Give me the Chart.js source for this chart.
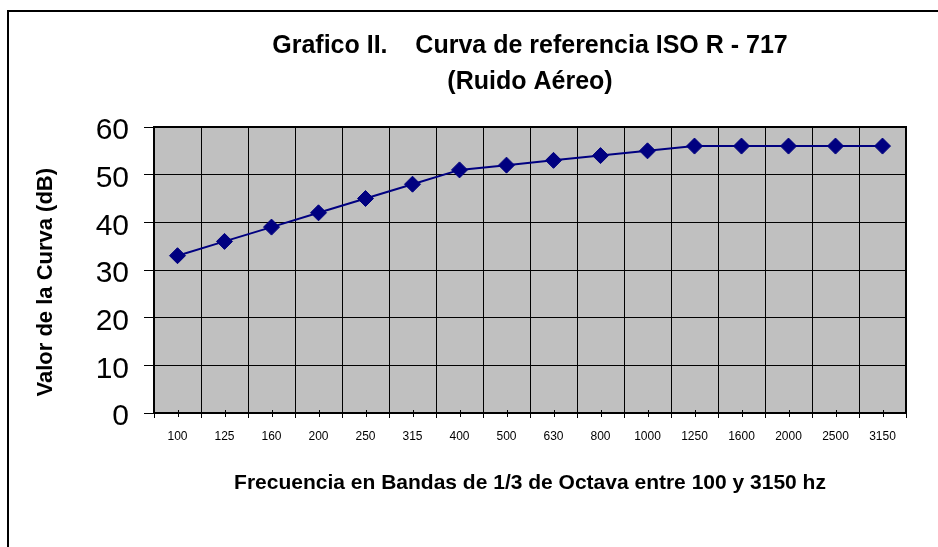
<!DOCTYPE html>
<html lang="es">
  <head>
    <meta charset="UTF-8" />
    <title>Curva de referencia ISO R - 717</title>
    <script src="https://cdn.jsdelivr.net/npm/chart.js@4/dist/chart.umd.min.js"></script>
    <style>
      html, body { margin: 0; padding: 0; background: #fff; overflow: hidden; }
    </style>
  </head>
  <body>
    <canvas id="myChart" width="938" height="547"></canvas>
    <script>
      // frecuencias (bandas de 1/3 de octava)
      const bandas = ["100", "125", "160", "200", "250", "315", "400", "500",
        "630", "800", "1000", "1250", "1600", "2000", "2500", "3150"];
      // valores de la curva de referencia (dB)
      const valores = [33, 36, 39, 42, 45, 48, 51, 52, 53, 54, 55, 56, 56, 56, 56, 56];

      const titulo = ["Grafico II.    Curva de referencia ISO R - 717", "(Ruido Aéreo)"];
      // los espacios finales bajan un poco el titulo vertical, como en el original
      const tituloY = "Valor de la Curva (dB)    ";
      const tituloX = "Frecuencia en Bandas de 1/3 de Octava entre 100 y 3150 hz";

      const FONT = "Arial, 'Liberation Sans', sans-serif";

      // marco, fondo gris del area y marquitas centrales del eje x
      const decor = {
        id: "decor",
        beforeDraw(chart) {
          const { ctx, chartArea: a } = chart;
          ctx.save();
          ctx.fillStyle = "#fff";
          ctx.fillRect(0, 0, chart.width, chart.height);
          ctx.strokeStyle = "#000";
          ctx.lineWidth = 2;
          ctx.strokeRect(8, 11, chart.width + 20, chart.height + 20);
          ctx.fillStyle = "#C0C0C0";
          ctx.fillRect(a.left, a.top, a.right - a.left, a.bottom - a.top);
          ctx.restore();
        },
        afterDatasetsDraw(chart) {
          const { ctx, chartArea: a } = chart;
          const xs = chart.scales.x;
          ctx.save();
          ctx.strokeStyle = "#000";
          ctx.lineWidth = 1;
          ctx.beginPath();
          for (let i = 0; i < bandas.length; i++) {
            const x = Math.round(xs.getPixelForTick(i)) + 0.5;
            ctx.moveTo(x, a.bottom - 3);
            ctx.lineTo(x, a.bottom + 4);
          }
          ctx.stroke();
          ctx.lineWidth = 2;
          ctx.strokeRect(a.left, a.top, a.right - a.left, a.bottom - a.top);
          ctx.restore();
        },
      };

      const ctx = document.getElementById("myChart").getContext("2d");
      new Chart(ctx, {
        type: "line",
        data: {
          labels: bandas,
          datasets: [
            {
              data: valores,
              borderColor: "#000080",
              backgroundColor: "#000080",
              borderWidth: 2,
              pointStyle: "rectRot",
              pointRadius: 8,
              pointBorderWidth: 1,
              tension: 0,
            },
          ],
        },
        options: {
          responsive: false,
          devicePixelRatio: 1,
          animation: false,
          layout: { padding: { left: 0, right: 32, top: 0, bottom: 0 } },
          plugins: {
            legend: { display: false },
            tooltip: { enabled: false },
            title: {
              display: true,
              fullSize: false,
              text: titulo,
              color: "#000",
              font: { family: FONT, size: 25, weight: "bold", lineHeight: 1.44 },
              padding: { top: 28, bottom: 27 },
            },
          },
          scales: {
            x: {
              offset: true,
              afterFit(scale) { scale.height = 134; },
              grid: { offset: true, color: "#000", lineWidth: 1, tickLength: 5 },
              border: { display: true, color: "#000", width: 2 },
              ticks: { color: "#000", font: { family: FONT, size: 12 }, padding: 11, maxRotation: 0, autoSkip: false },
              title: {
                display: true,
                text: tituloX,
                color: "#000",
                font: { family: FONT, size: 21, weight: "bold" },
                padding: { top: 0, bottom: 51 },
              },
            },
            y: {
              min: 0,
              max: 60,
              afterFit(scale) { scale.width = 154; },
              grid: { color: "#000", lineWidth: 1, tickLength: 10 },
              border: { display: true, color: "#000", width: 2 },
              ticks: { stepSize: 10, color: "#000", font: { family: FONT, size: 30 }, padding: 15, labelOffset: 4 },
              title: {
                display: true,
                text: tituloY,
                color: "#000",
                font: { family: FONT, size: 22, weight: "bold" },
                padding: { top: 33, bottom: 0 },
              },
            },
          },
        },
        plugins: [decor],
      });
    </script>
  </body>
</html>
